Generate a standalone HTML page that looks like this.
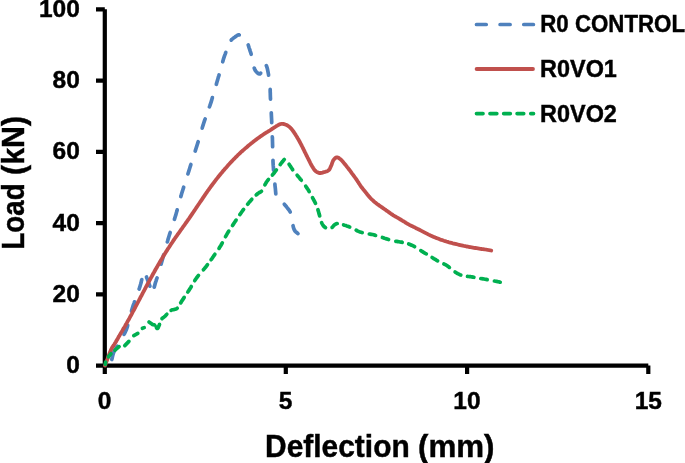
<!DOCTYPE html>
<html>
<head>
<meta charset="utf-8">
<style>
html,body{margin:0;padding:0;background:#fff;}
body{width:685px;height:463px;overflow:hidden;}
svg{display:block;}
.txt,.leg{filter:grayscale(1);}
text{font-family:"Liberation Sans",sans-serif;font-weight:bold;fill:#000;stroke:#000;stroke-width:0.45px;}
</style>
</head>
<body>
<svg width="685" height="463" viewBox="0 0 685 463">
<rect width="685" height="463" fill="#fff"/>
<!-- axes -->
<g stroke="#000" stroke-width="4.2" fill="none">
<path d="M104.8,9.3 V374"/>
<path d="M96,365.6 H648.3"/>
<path d="M96,9.3 H104.8 M96,80.6 H104.8 M96,151.8 H104.8 M96,223.1 H104.8 M96,294.3 H104.8"/>
<path d="M285.8,365.6 V373.9 M467.1,365.6 V373.9 M648.3,365.6 V373.9"/>
</g>
<g class="txt">
<!-- y tick labels -->
<g font-size="24.5" text-anchor="end">
<text x="79.8" y="17.3">100</text>
<text x="79.8" y="88.1">80</text>
<text x="79.8" y="159.3">60</text>
<text x="79.8" y="230.5">40</text>
<text x="79.8" y="301.7">20</text>
<text x="79.8" y="373">0</text>
</g>
<!-- x tick labels -->
<g font-size="24.5" text-anchor="middle">
<text x="104.6" y="408.5">0</text>
<text x="285.6" y="408.5">5</text>
<text x="466.9" y="408.5">10</text>
<text x="648.3" y="408.5">15</text>
</g>
<!-- axis titles -->
<text x="265.1" y="456.7" font-size="31" textLength="144.6" lengthAdjust="spacingAndGlyphs">Deflection</text>
<text x="418" y="456.7" font-size="31" textLength="76.5" lengthAdjust="spacingAndGlyphs">(mm)</text>
<text transform="translate(23.7,249.6) rotate(-90)" font-size="31" textLength="66.3" lengthAdjust="spacingAndGlyphs">Load</text>
<text transform="translate(23.7,174.9) rotate(-90)" font-size="31" textLength="59.1" lengthAdjust="spacingAndGlyphs">(kN)</text>
</g>

<!-- series -->
<g fill="none" stroke-linecap="round" stroke-linejoin="round" stroke-width="3.7">
<path stroke="#4F81BD" d="M111.8,359.5 L112.6,356 L113.6,352.6 L115.2,349.3 L117.4,346.2 M124.0,334.4 L124.8,333.0 L125.5,331.5 L126.2,330.0 L126.9,328.1 L127.5,326.2 L127.7,325.3 M131.5,311.1 L131.7,310.2 L132.3,308.3 L132.9,306.4 L133.5,304.6 L134.2,302.8 L134.5,301.8 M139.1,289.0 L139.5,287.9 L140.1,286.0 L140.6,284.3 L140.9,283.1 L141.2,282.1 L141.4,281.0 L141.7,280.0 L141.8,279.5 M146.5,277.0 L146.7,277.7 L147.1,278.6 L147.5,279.6 L147.8,280.6 L148.2,281.6 L148.6,282.7 L149.0,283.7 L149.4,284.8 L149.8,285.9 L149.9,286.2 M154.2,287.2 L154.3,286.9 L154.6,285.8 L154.9,284.7 L155.2,283.6 L155.5,282.5 L155.8,281.6 L156.1,280.8 L156.3,280.0 L156.6,279.2 L156.9,278.4 L157.1,277.9 M161.1,264.2 L161.4,263.1 L161.9,261.3 L162.4,259.5 L162.9,257.7 L163.4,255.9 L163.7,254.8 M167.3,241.9 L167.6,241.0 L168.1,239.1 L168.7,237.2 L169.3,235.3 L169.9,233.4 L170.2,232.5 M174.4,219.3 L174.7,218.4 L175.3,216.5 L175.9,214.6 L176.4,212.7 L177.0,210.8 L177.2,209.9 M180.8,196.6 L181.1,195.7 L181.6,193.8 L182.2,191.9 L182.8,190.0 L183.4,188.1 L183.7,187.2 M187.9,173.9 L188.2,173.0 L188.8,171.1 L189.4,169.2 L190.0,167.3 L190.6,165.4 L190.9,164.5 M195.2,151.1 L195.5,150.2 L196.1,148.3 L196.7,146.4 L197.3,144.5 L197.9,142.6 L198.2,141.7 M202.2,128.2 L202.4,127.3 L203.0,125.4 L203.6,123.5 L204.2,121.7 L204.8,119.9 L205.2,118.9 M209.4,106.9 L209.8,105.9 L210.4,104.1 L211.0,102.3 L211.6,100.4 L212.1,98.6 L212.4,97.6 M216.3,84.3 L216.6,83.4 L217.1,81.5 L217.7,79.6 L218.2,77.7 L218.8,75.9 L219.1,74.9 M222.7,61.8 L223.0,60.7 L223.5,58.9 L224.1,57.1 L224.6,55.6 L225.2,54.1 L225.7,52.7 L225.8,52.5 M231.2,40.1 L231.3,40.0 L231.9,39.3 L232.5,38.8 L233.1,38.3 L233.7,37.8 L234.4,37.4 L235.0,37.0 L235.6,36.5 L236.3,36.0 L237.0,35.6 L237.7,35.2 L238.3,34.9 L239.0,34.8 L239.3,34.9 M248.2,45.0 L248.4,45.5 L248.7,46.5 L249.0,47.6 L249.4,48.6 L249.7,49.7 L250.1,50.9 L250.5,52.0 L250.9,53.2 L251.2,54.3 M254.2,68.1 L254.4,68.4 L254.7,69.3 L255.1,70.0 L255.5,70.8 L256.0,71.4 L256.5,72.0 L257.0,72.5 L257.5,73.0 L258.0,73.4 L258.5,73.7 L259.0,73.9 L259.5,74.0 L259.9,73.9 L260.2,73.7 L260.6,73.3 L260.7,73.1 M266.3,65.6 L266.5,66.0 L266.9,67.1 L267.3,68.3 L267.6,69.8 L267.9,71.3 L268.2,72.9 L268.5,74.5 L268.6,75.1 M270.2,89.4 L270.2,90.1 L270.2,91.0 L270.2,92.0 L270.3,93.0 L270.3,94.3 L270.4,97.3 L270.5,99.2 M271.3,112.8 L271.3,113.6 L271.5,117.7 L271.7,121.7 L271.7,122.6 M272.3,136.9 L272.4,137.8 L272.5,141.8 L272.6,145.8 L272.6,146.7 M273.0,160.3 L273.0,161.7 L273.2,165.2 L273.4,167.6 L273.5,169.8 L273.6,170.1 M274.9,184.1 L275.0,185.6 L275.2,187.3 L275.4,189.0 L275.5,190.3 L275.6,191.5 L275.7,192.7 L275.8,193.9 M284.3,204.2 L284.3,204.2 L285.4,205.5 L286.5,206.8 L287.4,208.0 L288.0,208.8 L288.6,209.5 L289.1,210.2 L289.6,210.9 L290.1,211.7 L290.2,212.0 M293.0,225.7 L293.1,226.0 L293.3,227.0 L293.5,227.8 L293.8,228.5 L294.0,229.2 L294.3,229.8 L294.6,230.4 L295.0,231.0 L295.4,231.5 L295.9,232.0 L296.4,232.4 L297.0,232.8 L297.5,233.2 L298.0,233.6"/>
<path stroke="#C0504D" stroke-width="3.8" d="M105.0,365.5 L105.5,364.2 L106.0,362.8 L106.5,361.5 L107.0,360.2 L107.5,358.9 L108.0,357.5 L108.6,356.0 L109.1,354.5 L109.7,353.0 L110.3,351.5 L110.9,350.1 L111.5,348.8 L112.0,347.8 L112.6,346.9 L113.2,346.0 L113.8,345.2 L114.4,344.3 L115.0,343.3 L115.8,342.0 L116.6,340.5 L117.5,339.1 L118.3,337.6 L119.2,336.1 L120.0,334.6 L120.8,333.2 L121.7,331.8 L122.5,330.4 L123.3,328.9 L124.2,327.5 L125.0,326.1 L125.8,324.6 L126.7,323.2 L127.5,321.7 L128.3,320.2 L129.2,318.7 L130.0,317.2 L130.8,315.7 L131.7,314.1 L132.5,312.5 L133.3,310.9 L134.2,309.4 L135.0,307.8 L135.8,306.2 L136.7,304.6 L137.5,303.1 L138.3,301.5 L139.2,299.9 L140.0,298.3 L140.8,296.7 L141.7,295.2 L142.5,293.6 L143.3,292.0 L144.2,290.5 L145.0,288.9 L145.8,287.3 L146.7,285.8 L147.5,284.2 L148.3,282.7 L149.2,281.1 L150.0,279.6 L150.8,278.1 L151.7,276.5 L152.5,275.0 L153.3,273.5 L154.2,272.0 L155.0,270.5 L155.8,269.0 L156.7,267.6 L157.5,266.1 L158.3,264.7 L159.2,263.2 L160.0,261.8 L160.8,260.4 L161.7,259.0 L162.5,257.6 L163.3,256.2 L164.2,254.9 L165.0,253.5 L165.8,252.2 L166.7,250.9 L167.5,249.6 L168.3,248.3 L169.2,247.0 L170.0,245.7 L170.8,244.4 L171.7,243.2 L172.5,242.0 L173.3,240.7 L174.2,239.5 L175.0,238.3 L175.8,237.1 L176.7,235.9 L177.5,234.7 L178.3,233.6 L179.2,232.4 L180.0,231.2 L180.8,230.0 L181.7,228.9 L182.5,227.7 L183.3,226.5 L184.2,225.4 L185.0,224.2 L185.8,223.0 L186.7,221.8 L187.5,220.7 L188.3,219.5 L189.2,218.3 L190.0,217.1 L190.8,215.9 L191.7,214.6 L192.5,213.4 L193.3,212.2 L194.2,210.9 L195.0,209.7 L195.8,208.5 L196.7,207.2 L197.5,206.0 L198.3,204.8 L199.2,203.5 L200.0,202.3 L200.8,201.1 L201.7,199.8 L202.5,198.6 L203.3,197.4 L204.2,196.1 L205.0,194.9 L205.8,193.7 L206.7,192.5 L207.5,191.3 L208.3,190.1 L209.2,189.0 L210.0,187.8 L210.8,186.7 L211.7,185.5 L212.5,184.4 L213.3,183.3 L214.2,182.2 L215.0,181.1 L215.8,180.0 L216.7,178.9 L217.5,177.9 L218.3,176.8 L219.2,175.7 L220.0,174.7 L220.8,173.7 L221.7,172.7 L222.5,171.7 L223.3,170.7 L224.2,169.8 L225.0,168.8 L225.8,167.9 L226.7,166.9 L227.5,166.0 L228.3,165.0 L229.2,164.1 L230.0,163.2 L230.8,162.3 L231.7,161.4 L232.5,160.6 L233.3,159.7 L234.2,158.9 L235.0,158.0 L235.8,157.2 L236.7,156.3 L237.5,155.5 L238.3,154.7 L239.2,153.9 L240.0,153.1 L240.8,152.3 L241.7,151.6 L242.5,150.8 L243.3,150.1 L244.2,149.3 L245.0,148.6 L245.8,147.9 L246.7,147.2 L247.5,146.5 L248.3,145.8 L249.2,145.1 L250.0,144.4 L250.8,143.7 L251.7,143.0 L252.5,142.4 L253.3,141.7 L254.2,141.0 L255.0,140.4 L255.8,139.8 L256.7,139.2 L257.5,138.6 L258.3,138.0 L259.2,137.4 L260.0,136.8 L260.8,136.2 L261.7,135.6 L262.5,135.1 L263.3,134.5 L264.2,133.9 L265.0,133.4 L265.8,132.9 L266.6,132.4 L267.5,131.9 L268.3,131.4 L269.1,130.8 L270.0,130.3 L271.0,129.7 L271.9,129.0 L272.9,128.4 L273.9,127.7 L274.9,127.1 L275.8,126.5 L276.5,126.0 L277.3,125.6 L278.0,125.2 L278.7,124.8 L279.3,124.5 L280.0,124.2 L280.5,124.1 L281.0,123.9 L281.5,123.9 L282.0,123.8 L282.5,123.9 L283.0,123.9 L283.7,124.0 L284.5,124.2 L285.2,124.5 L286.0,124.8 L286.8,125.1 L287.5,125.5 L288.2,126.0 L288.9,126.5 L289.6,127.0 L290.2,127.6 L290.9,128.3 L291.5,129.0 L292.3,129.9 L293.0,131.0 L293.8,132.0 L294.5,133.2 L295.3,134.3 L296.0,135.5 L296.8,136.7 L297.5,138.0 L298.3,139.3 L299.1,140.7 L299.8,142.0 L300.5,143.3 L301.2,144.6 L301.8,145.9 L302.5,147.2 L303.1,148.5 L303.8,149.8 L304.4,151.1 L305.0,152.4 L305.7,153.7 L306.3,155.0 L307.0,156.3 L307.6,157.6 L308.3,158.9 L308.9,160.2 L309.6,161.5 L310.2,162.8 L310.9,164.1 L311.5,165.3 L312.2,166.4 L312.7,167.3 L313.2,168.1 L313.8,168.9 L314.3,169.7 L314.9,170.4 L315.5,171.0 L316.1,171.5 L316.7,171.9 L317.4,172.3 L318.1,172.6 L318.8,172.9 L319.5,173.0 L320.2,173.0 L321.0,173.0 L321.7,172.8 L322.5,172.6 L323.2,172.4 L324.0,172.2 L324.8,172.0 L325.6,171.7 L326.4,171.5 L327.2,171.2 L327.9,170.8 L328.6,170.3 L329.2,169.7 L329.7,168.9 L330.1,168.1 L330.5,167.2 L330.9,166.3 L331.3,165.4 L331.7,164.5 L332.0,163.5 L332.3,162.6 L332.7,161.6 L333.0,160.8 L333.5,160.0 L334.0,159.4 L334.5,158.8 L335.0,158.3 L335.6,157.8 L336.1,157.5 L336.7,157.3 L337.2,157.3 L337.8,157.5 L338.3,157.7 L338.9,158.1 L339.4,158.5 L340.0,158.9 L340.9,159.6 L341.8,160.5 L342.7,161.5 L343.6,162.6 L344.5,163.7 L345.4,164.8 L346.3,165.9 L347.2,167.1 L348.2,168.3 L349.1,169.5 L350.0,170.7 L350.9,171.9 L351.9,173.3 L352.9,174.6 L354.0,176.1 L355.0,177.5 L356.0,178.9 L356.9,180.2 L357.6,181.3 L358.4,182.4 L359.0,183.5 L359.7,184.5 L360.4,185.6 L361.1,186.6 L361.8,187.5 L362.5,188.4 L363.2,189.3 L363.9,190.2 L364.6,191.1 L365.4,192.0 L366.3,193.1 L367.1,194.2 L368.0,195.3 L368.9,196.4 L369.9,197.5 L370.8,198.5 L371.7,199.4 L372.6,200.2 L373.5,201.0 L374.4,201.8 L375.3,202.6 L376.2,203.3 L377.1,204.0 L378.0,204.6 L378.9,205.2 L379.8,205.9 L380.7,206.5 L381.6,207.1 L382.5,207.7 L383.4,208.4 L384.3,209.0 L385.2,209.6 L386.1,210.3 L387.0,210.9 L387.9,211.5 L388.8,212.2 L389.7,212.8 L390.6,213.5 L391.5,214.1 L392.4,214.7 L393.3,215.3 L394.2,215.8 L395.1,216.3 L396.0,216.9 L396.9,217.4 L397.8,217.9 L398.7,218.4 L399.6,219.0 L400.5,219.5 L401.4,220.0 L402.3,220.6 L403.2,221.1 L404.1,221.7 L405.0,222.2 L405.9,222.8 L406.8,223.3 L407.7,223.9 L408.6,224.4 L409.5,224.9 L410.4,225.3 L411.3,225.8 L412.2,226.2 L413.1,226.7 L414.0,227.1 L414.9,227.5 L415.7,228.0 L416.6,228.4 L417.5,228.8 L418.4,229.3 L419.4,229.8 L421.0,230.6 L422.9,231.6 L424.8,232.6 L426.8,233.6 L428.7,234.6 L430.6,235.5 L432.2,236.2 L433.8,236.9 L435.4,237.6 L437.0,238.2 L438.6,238.8 L440.1,239.4 L441.4,239.9 L442.7,240.3 L443.9,240.7 L445.2,241.1 L446.4,241.5 L447.7,241.9 L448.9,242.3 L450.2,242.6 L451.4,242.9 L452.7,243.3 L453.9,243.6 L455.2,243.9 L456.5,244.2 L457.7,244.5 L459.0,244.8 L460.3,245.1 L461.5,245.4 L462.8,245.7 L464.1,246.0 L465.3,246.2 L466.6,246.5 L467.9,246.7 L469.1,247.0 L470.4,247.2 L471.7,247.4 L472.9,247.6 L474.1,247.8 L475.4,248.0 L476.6,248.2 L477.9,248.4 L479.2,248.6 L480.5,248.8 L481.8,249.0 L483.0,249.1 L484.3,249.3 L485.5,249.5 L486.5,249.7 L487.5,249.8 L488.4,250.0 L489.3,250.2 L490.3,250.3 L491.2,250.5"/>
<path stroke="#00B050" d="M105.3,364.3 L105.6,362.2 M108.4,356.8 L111,353.8 M115,350.2 L119.1,346.7 M124.8,345.6 L128.9,341.4 M133.8,335.6 L137.8,333.4 M142.4,328.3 L144.2,327.6 M149.0,322.0 L149.1,322.1 L149.7,322.4 L150.4,322.9 L151.2,323.6 L151.9,324.1 L152.5,324.5 L152.9,324.7 L153.4,324.7 L153.8,324.8 L154.2,324.9 L154.6,325.0 M156.3,327.2 L156.6,327.8 L156.9,328.3 L157.3,328.5 L157.7,328.3 L158.1,327.8 L158.4,327.0 L158.8,326.2 L159.1,325.3 L159.5,324.5 L159.5,324.4 M162.0,318.6 L162.2,318.3 L162.6,318.0 L163.1,317.6 L163.6,317.3 L164.0,317.0 L164.5,316.6 L165.1,316.1 L165.7,315.5 L166.2,314.8 L166.8,314.3 M171.1,310.3 L171.5,310.1 L172.0,309.9 L172.6,309.8 L173.1,309.7 L173.7,309.6 L174.2,309.5 L174.7,309.3 L175.3,309.2 L175.9,309.0 L176.4,308.8 L176.9,308.5 L177.2,308.3 M180.7,302.9 L180.8,302.8 L181.1,302.2 L181.5,301.5 L181.9,300.9 L182.4,300.1 L183.4,298.6 L184.2,297.4 M187.8,292.0 L188.4,291.2 L189.6,289.3 L190.8,287.4 L191.3,286.5 M194.7,280.7 L195.2,279.8 L196.5,278.0 L197.9,276.2 L198.5,275.4 M203.4,269.8 L204.0,269.1 L205.5,267.3 L206.8,265.6 L207.5,264.7 M211.1,259.7 L211.8,258.8 L213.0,257.0 L214.3,255.2 L214.9,254.3 M219.0,248.4 L219.5,247.6 L220.7,245.7 L221.8,243.8 L222.3,242.9 M225.5,236.7 L226.0,235.8 L227.1,233.9 L228.2,232.0 L228.8,231.1 M232.5,225.5 L233.1,224.6 L234.3,222.8 L235.5,221.0 L236.1,220.1 M239.8,214.6 L240.4,213.8 L241.7,212.0 L243.0,210.2 L243.6,209.4 M247.6,204.2 L248.5,203.2 L249.7,201.7 L250.6,200.7 L251.4,199.8 L251.8,199.3 M256.2,194.9 L256.6,194.6 L257.3,194.0 L257.9,193.5 L258.6,193.0 L259.1,192.6 L259.7,192.4 L260.2,192.1 L260.7,191.8 L261.2,191.5 L261.5,191.2 M264.9,184.8 L265.6,183.6 L266.5,182.0 L267.7,180.4 L268.5,179.4 M272.4,175.0 L273.2,174.1 L274.5,172.5 L275.8,170.7 L276.4,169.9 M280.2,164.6 L281.1,163.4 L282.2,162.0 L282.8,161.3 L283.4,160.5 L284.0,159.8 L284.3,159.5 M289.1,164.3 L289.4,164.7 L289.9,165.5 L290.4,166.2 L290.9,167.0 L291.4,167.7 L291.9,168.5 L292.4,169.2 L292.7,169.7 M297.1,175.2 L297.5,175.7 L298.4,176.7 L299.2,177.7 L299.8,178.4 L300.3,179.1 L300.9,179.7 L301.3,180.2 M305.7,186.1 L305.9,186.5 L306.7,187.7 L307.5,188.8 L308.1,189.7 L308.6,190.6 L309.1,191.4 L309.2,191.6 M312.5,197.6 L312.9,198.4 L313.5,199.5 L314.0,200.5 L314.5,201.4 L314.9,202.2 L315.3,203.0 L315.5,203.4 M317.9,209.7 L318.1,210.4 L318.5,211.6 L318.8,212.8 L319.1,213.9 L319.4,214.9 L319.7,215.9 M321.6,222.6 L321.7,222.8 L322.0,223.5 L322.3,224.1 L322.6,224.6 L322.9,225.1 L323.2,225.6 L323.6,226.1 L324.0,226.5 L324.4,226.9 L324.9,227.2 L325.4,227.5 L325.5,227.6 M332.1,227.4 L332.4,227.2 L332.8,226.7 L333.1,226.3 L333.5,225.8 L333.9,225.4 L334.3,225.0 L334.7,224.7 L335.2,224.4 L335.7,224.1 L336.2,223.8 L336.7,223.6 L337.2,223.5 M343.6,224.9 L344.6,225.2 L345.7,225.5 L346.7,225.9 L347.6,226.2 L348.5,226.5 L349.3,226.9 L349.7,227.0 M356.2,230.2 L356.7,230.5 L357.9,231.1 L359.1,231.6 L360.1,232.0 L361.1,232.3 L362.0,232.6 L362.2,232.6 M369.3,234.0 L370.0,234.1 L371.3,234.3 L372.5,234.5 L373.6,234.8 L374.7,235.1 L375.6,235.4 M382.4,237.5 L383.3,237.8 L384.4,238.2 L385.5,238.5 L386.6,238.9 L387.7,239.2 L388.6,239.5 M395.8,241.3 L396.7,241.4 L397.9,241.6 L399.0,241.8 L400.0,242.0 L401.0,242.1 L402.0,242.2 L402.2,242.3 M408.7,244.0 L409.5,244.3 L410.6,244.7 L411.7,245.2 L412.7,245.7 L413.7,246.2 L414.6,246.7 M420.8,250.6 L421.5,251.1 L422.5,251.7 L423.5,252.3 L424.4,252.9 L425.3,253.4 L426.3,253.9 L426.3,253.9 M432.1,257.5 L432.9,258.0 L433.8,258.6 L434.8,259.2 L435.7,259.7 L436.7,260.3 L437.6,260.8 L437.6,260.8 M443.9,264.0 L444.8,264.4 L445.8,264.9 L446.8,265.5 L447.7,266.1 L448.6,266.8 L449.4,267.4 M455.1,271.9 L455.8,272.4 L456.8,273.1 L457.8,273.7 L458.8,274.2 L459.8,274.7 L460.8,275.0 M467.5,276.4 L468.4,276.5 L469.6,276.6 L470.7,276.7 L471.8,276.9 L473.0,277.1 L473.9,277.3 M480.8,278.5 L481.8,278.7 L482.9,278.8 L484.0,279.0 L485.1,279.2 L486.2,279.4 L487.2,279.6 M494.4,281.0 L495.5,281.2 L496.6,281.4 L497.6,281.6 L498.1,281.7 L498.6,281.8 L499.0,281.9 L499.4,282.0 L499.8,282.1 L500.2,282.2"/>
</g>

<!-- legend -->
<g fill="none" stroke-linecap="round" stroke-width="3.7">
<path stroke="#4F81BD" d="M476.5,24.5 H486.2 M500.1,24.5 H510.1 M523.8,24.5 H533.4"/>
<path stroke="#C0504D" stroke-width="3.8" d="M476.6,69 H533"/>
<path stroke="#00B050" d="M476.5,113.6 H483 M490,113.6 H496.8 M503.7,113.6 H510.3 M517.1,113.6 H523.7 M530.8,113.6 H533.5"/>
</g>
<g class="leg" font-size="24.5">
<text x="540.3" y="31.7" textLength="144.7" lengthAdjust="spacingAndGlyphs">R0 CONTROL</text>
<text x="540.1" y="77" textLength="76.8" lengthAdjust="spacingAndGlyphs">R0VO1</text>
<text x="540.1" y="121.7" textLength="76.8" lengthAdjust="spacingAndGlyphs">R0VO2</text>
</g>
</svg>
</body>
</html>
